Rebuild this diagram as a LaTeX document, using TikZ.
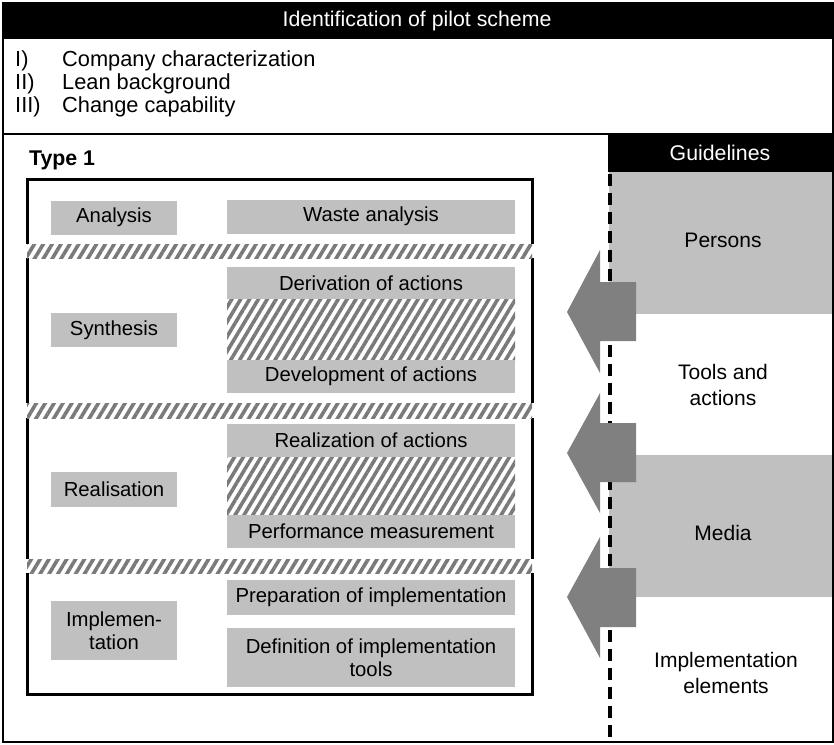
\documentclass[tikz,border=0pt]{standalone}
\usepackage{fontspec}
\setmainfont{Liberation Sans}
\usetikzlibrary{patterns.meta}
\definecolor{boxgrey}{HTML}{C0C0C0}
\definecolor{arrowgrey}{HTML}{808080}
\definecolor{hatchgrey}{HTML}{7A7A7A}
\newcommand{\fsbox}{\fontsize{20.3}{23}\selectfont}
\newcommand{\fstitle}{\fontsize{21.3}{24}\selectfont}
\newcommand{\fslist}{\fontsize{21.8}{24}\selectfont}
\newcommand{\fsright}{\fontsize{21}{26}\selectfont}
\tikzset{
  gbox/.style={fill=boxgrey, inner sep=0pt, font=\fsbox, align=center, text=black},
  plain/.style={inner sep=0pt, font=\fsright, align=center},
  listtext/.style={anchor=west, font=\fslist, inner sep=0pt},
  hatchfill/.style={pattern={Lines[angle=59,distance=7.6pt,line width=3.6pt]}, pattern color=hatchgrey},
  bigarrow/.style={fill=arrowgrey, draw=none},
  sepdash/.style={line width=3.2pt, dash pattern=on 12pt off 7pt},
}
\begin{document}
\begin{tikzpicture}[x=1pt,y=-1pt]
\useasboundingbox (0,0) rectangle (834,744);
\fill[white] (0,0) rectangle (834,744);
% title bar
\fill[black] (3,3) rectangle (833,39);
\node[font=\fstitle, text=white, inner sep=0pt] (title) at (417,21) {Identification of pilot scheme};
% list
\node[listtext] (l1a) at (15,61) {I)};
\node[listtext] (l1) at (62,61) {Company characterization};
\node[listtext] (l2a) at (15,84) {II)};
\node[listtext] (l2) at (62,84) {Lean background};
\node[listtext] (l3a) at (15,107) {III)};
\node[listtext] (l3) at (62,107) {Change capability};
\draw[line width=2pt] (3,134) -- (608,134);
% guidelines column
\fill[black] (608,133) rectangle (833,172);
\node[font=\fstitle, text=white, inner sep=0pt] (guide) at (720,153) {Guidelines};
\fill[boxgrey] (609,172) rectangle (833,314);
\fill[boxgrey] (609,455) rectangle (833,597);
\node[plain] (persons) at (723,240) {Persons};
\node[plain] (tools) at (723,385) {Tools and\\actions};
\node[plain] (media) at (723,533) {Media};
\node[plain] (impel) at (726,673) {Implementation\\elements};
\draw[sepdash] (610,174) -- (610,742);
% arrows
\fill[bigarrow] (567,312) -- (600,250) -- (600,282) -- (636,282) -- (636,341) -- (600,341) -- (600,373) -- cycle;
\fill[bigarrow] (567,453) -- (600,393) -- (600,423) -- (636,423) -- (636,482) -- (600,482) -- (600,513) -- cycle;
\fill[bigarrow] (567,597) -- (600,537) -- (600,568) -- (636,568) -- (636,627) -- (600,627) -- (600,658) -- cycle;
% Type 1
\node[anchor=west, font=\bfseries\fstitle, inner sep=0pt] (type1) at (29,160) {Type 1};
\draw[line width=3pt] (27,179) rectangle (532,694);
% left column
\node[gbox, minimum width=126pt, minimum height=34pt] (analysis) at (114,217.5) {Analysis};
\node[gbox, minimum width=126pt, minimum height=34pt] (synth) at (114,330) {Synthesis};
\node[gbox, minimum width=126pt, minimum height=35pt] (real) at (114,489.5) {Realisation};
\node[gbox, minimum width=126pt, minimum height=59pt] (impl) at (114,630.5) {Implemen-\\tation};
% right column
\fill[white] (227,299) rectangle (515,360);
\fill[hatchfill] (227,299) rectangle (515,360);
\fill[white] (227,457) rectangle (515,515);
\fill[hatchfill] (227,457) rectangle (515,515);
\node[gbox, minimum width=288pt, minimum height=34pt] (waste) at (371,216.5) {Waste analysis};
\node[gbox, minimum width=288pt, minimum height=32pt] (deriv) at (371,283) {Derivation of actions};
\node[gbox, minimum width=288pt, minimum height=33pt] (devel) at (371,376.5) {Development of actions};
\node[gbox, minimum width=288pt, minimum height=33pt] (realiz) at (371,440.5) {Realization of actions};
\node[gbox, minimum width=288pt, minimum height=33pt] (perf) at (371,531.5) {Performance measurement};
\node[gbox, minimum width=288pt, minimum height=35pt] (prep) at (371,597.5) {Preparation of implementation};
\node[gbox, minimum width=288pt, minimum height=59pt] (defin) at (371,657.5) {Definition of implementation\\tools};
% hatched separators
\foreach \ya/\yb in {244/258, 403/418, 559/573}{
  \fill[white] (24,\ya) rectangle (535,\yb);
  \fill[hatchfill] (27,\ya) rectangle (532,\yb);
}
% outer frame
\draw[line width=2pt] (3,3) rectangle (833,742);
\end{tikzpicture}
\end{document}
